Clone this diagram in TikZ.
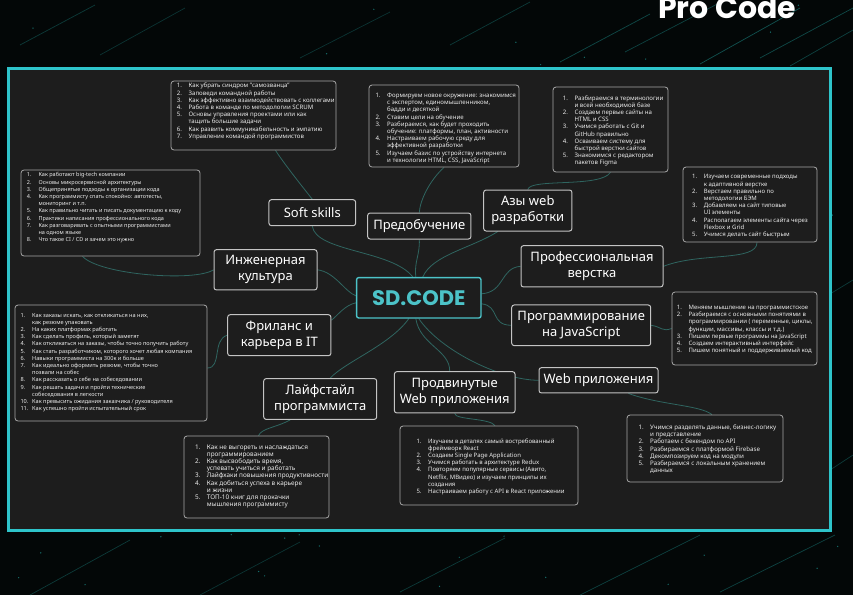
\documentclass[tikz,border=0pt]{standalone}
\usepackage{fontspec}
\setmainfont{Noto Sans}
\newfontfamily\popp{Poppins}
\usetikzlibrary{calc}
\definecolor{bg}{HTML}{030707}
\definecolor{framec}{HTML}{2EC4CA}
\definecolor{innerc}{HTML}{1D1D1D}
\definecolor{boxline}{HTML}{C4C4C4}
\definecolor{conn}{HTML}{2F6560}
\definecolor{sdteal}{HTML}{4CC3C8}
\definecolor{streak}{HTML}{1E9A96}
\pgfdeclarelayer{bgl}
\pgfsetlayers{bgl,main}
\tikzset{
 topic/.style={draw=boxline, line width=1pt, rounded corners=2.5pt, fill=innerc, text=white,
   font=\fontsize{13}{16}\selectfont\bfseries, align=center, inner sep=0pt},
 detail/.style={draw=boxline!85!black, line width=0.8pt, rounded corners=3pt, fill=innerc, inner sep=0pt},
 dtext/.style={anchor=north west, inner sep=0pt, text=white!92!black, font=\fontsize{#1}{7.2}\selectfont},
 dtext/.default=6.1,
 link/.style={draw=conn, line width=0.8pt},
}
\newcommand\dtab[1]{\begin{tabular}{@{}p{11.7pt}@{}l@{}}#1\end{tabular}}
\begin{document}
\begin{tikzpicture}[x=1pt,y=-1pt]
\useasboundingbox (0,0) rectangle (853,595);

% title
\node[font=\popp\bfseries\fontsize{30}{30}\selectfont, text=white, anchor=base west, inner sep=0pt] (title) at (658,18) {Pro Code};

% center
\node[draw=sdteal, line width=1.4pt, rounded corners=2pt, fill=innerc, minimum width=124.3pt, minimum height=40.3pt,
  text=sdteal, font=\popp\bfseries\fontsize{21}{21}\selectfont, inner sep=0pt] (sd) at (418.8,297.8) {SD.CODE};

% topics
\node[topic, minimum width=86.7pt, minimum height=26pt] (ss) at (312.3,212.7) {Soft skills};
\node[topic, minimum width=103.3pt, minimum height=26pt] (pre) at (419.3,226) {Предобучение};
\node[topic, minimum width=88.3pt, minimum height=41pt] (azy) at (527.8,210.5) {Азы web\\разработки};
\node[topic, minimum width=103pt, minimum height=40.3pt] (eng) at (265.5,269.8) {Инженерная\\культура};
\node[topic, minimum width=142pt, minimum height=41.3pt] (prof) at (592,266.3) {Профессиональная\\верстка};
\node[topic, minimum width=103.3pt, minimum height=41pt] (fr) at (279.3,335.2) {Фриланс и\\карьера в IT};
\node[topic, minimum width=139pt, minimum height=40.7pt] (js) at (581.2,325.3) {Программирование\\на JavaScript};
\node[topic, minimum width=119pt, minimum height=25.3pt] (web) at (598.5,380.3) {Web приложения};
\node[topic, minimum width=113pt, minimum height=40.8pt] (life) at (320.2,399) {Лайфстайл\\программиста};
\node[topic, minimum width=120.7pt, minimum height=41.3pt] (adv) at (454.7,392.3) {Продвинутые\\Web приложения};

% detail boxes
\node[detail, minimum width=165pt, minimum height=69pt] (A) at (253.5,115.5) {};
\node[dtext] (At) at (176.7,82.6) {\dtab{
1.&Как убрать синдром "самозванца"\\
2.&Заповеди командной работы\\
3.&Как эффективно взаимодействовать с коллегами\\
4.&Работа в команде по методологии SCRUM\\
5.&Основы управления проектами или как\\
&тащить большие задачи\\
6.&Как развить коммуникабельность и эмпатию\\
7.&Управление командой программистов\\}};

\node[detail, minimum width=150pt, minimum height=82pt] (B) at (444,126) {};
\node[dtext] (Bt) at (375.3,92.2) {\dtab{
1.&Формируем новое окружение: знакомимся\\
&с экспертом, единомышленником,\\
&бадди и десяткой\\
2.&Ставим цели на обучение\\
3.&Разбираемся, как будет проходить\\
&обучение: платформы, план, активности\\
4.&Настраиваем рабочую среду для\\
&эффективной разработки\\
5.&Изучаем базис по устройству интернета\\
&и технологии HTML, CSS, JavaScript\\}};

\node[detail, minimum width=115pt, minimum height=85pt] (C) at (610.5,129.5) {};
\node[dtext] (Ct) at (562.7,94.9) {\dtab{
1.&Разбираемся в терминологии\\
&и всей необходимой базе\\
2.&Создаем первые сайты на\\
&HTML и CSS\\
3.&Учимся работать с Git и\\
&GitHub правильно\\
4.&Осваиваем систему для\\
&быстрой верстки сайтов\\
5.&Знакомимся с редактором\\
&пакетов Figma\\}};

\node[detail, minimum width=179pt, minimum height=86pt] (D) at (110.5,213) {};
\node[dtext=5.5] (Dt) at (26.7,171.6) {\dtab{
1.&Как работают big-tech компании\\
2.&Основы микросервисной архитектуры\\
3.&Общепринятые подходы к организации кода\\
4.&Как программисту спать спокойно: автотесты,\\
&мониторинг и т.п.\\
5.&Как правильно читать и писать документацию к коду\\
6.&Практики написания профессионального кода\\
7.&Как разговаривать с опытными программистами\\
&на одном языке\\
8.&Что такое CI / CD и зачем это нужно\\}};

\node[detail, minimum width=134pt, minimum height=75pt] (E) at (750,204.5) {};
\node[dtext=6.0] (Et) at (692,173.6) {\dtab{
1.&Изучаем современные подходы\\
&к адаптивной верстке\\
2.&Верстаем правильно по\\
&методологии БЭМ\\
3.&Добавляем на сайт типовые\\
&UI элементы\\
4.&Располагаем элементы сайта через\\
&Flexbox и Grid\\
5.&Учимся делать сайт быстрым\\}};

\node[detail, minimum width=145pt, minimum height=73pt] (F) at (744.5,328.5) {};
\node[dtext=6.0] (Ft) at (676.7,304.2) {\dtab{
1.&Меняем мышление на программистское\\
2.&Разбираемся с основными понятиями в\\
&программировании ( переменные, циклы,\\
&функции, массивы, классы и т.д.)\\
3.&Пишем первые программы на JavaScript\\
4.&Создаем интерактивный интерфейс\\
5.&Пишем понятный и поддерживаемый код\\}};

\node[detail, minimum width=192pt, minimum height=116pt] (G) at (111,363) {};
\node[dtext=5.6] (Gt) at (20.3,311.9) {\dtab{
1.&Как заказы искать, как откликаться на них,\\
&как резюме упаковать\\
2.&На каких платформах работать\\
3.&Как сделать профиль, который заметят\\
4.&Как откликаться на заказы, чтобы точно получить работу\\
5.&Как стать разработчиком, которого хочет любая компания\\
6.&Навыки программиста на 300к и больше\\
7.&Как идеально оформить резюме, чтобы точно\\
&позвали на собес\\
8.&Как рассказать о себе на собеседовании\\
9.&Как решать задачи и пройти технические\\
&собеседования в легкости\\
10.&Как превысить ожидания заказчика / руководителя\\
11.&Как успешно пройти испытательный срок\\}};

\node[detail, minimum width=145pt, minimum height=82pt] (H) at (256.5,477) {};
\node[dtext=6.4] (Ht) at (195,443.9) {\dtab{
1.&Как не выгореть и наслаждаться\\
&программированием\\
2.&Как высвободить время,\\
&успевать учиться и работать\\
3.&Лайфхаки повышения продуктивности\\
4.&Как добиться успеха в карьере\\
&и жизни\\
5.&ТОП-10 книг для прокачки\\
&мышления программисту\\}};

\node[detail, minimum width=178pt, minimum height=79pt] (I) at (489,465.5) {};
\node[dtext=6.0] (It) at (416.3,437.9) {\dtab{
1.&Изучаем в деталях самый востребованный\\
&фреймворк React\\
2.&Создаем Single Page Application\\
3.&Учимся работать в архитектуре Redux\\
4.&Повторяем популярные сервисы (Авито,\\
&Netflix, МВидео) и изучаем принципы их\\
&создания\\
5.&Настраиваем работу с API в React приложении\\}};

\node[detail, minimum width=156pt, minimum height=67pt] (J) at (705,448.5) {};
\node[dtext=6.2] (Jt) at (638.3,424.2) {\dtab{
1.&Учимся разделять данные, бизнес-логику\\
&и представление\\
2.&Работаем с бекендом по API\\
3.&Разбираемся с платформой Firebase\\
4.&Декомпозируем код на модули\\
5.&Разбираемся с локальным хранением\\
&данных\\}};

\begin{pgfonlayer}{bgl}
\fill[bg] (0,0) rectangle (853,595);
\foreach \a/\b/\c/\d/\o in {
  20/45/95/5/0.35, 100/55/185/8/0.3, 300/58/390/12/0.3, 450/45/530/2/0.35,
  560/62/650/14/0.45, 625/52/725/0/0.4, 700/64/800/8/0.5, 760/58/853/8/0.45,
  790/66/853/30/0.4, 30/595/130/540/0.35, 200/595/300/542/0.3, 400/592/505/538/0.35,
  580/595/700/535/0.4, 720/592/835/535/0.4, 820/300/853/280/0.35, 830/470/853/455/0.35}
  {\draw[streak, opacity=\o, line width=0.7pt] (\a,\b) -- (\c,\d);}
\pgfmathsetseed{12}
\foreach \i in {1,...,110}{
  \pgfmathsetmacro\px{rnd*853}\pgfmathsetmacro\py{rnd*595}
  \fill[streak, opacity=0.7] (\px,\py) circle (0.7pt);}
\draw[draw=framec, line width=3pt, fill=innerc] (8,68) rectangle (830,530);

% center links
\draw[link] (ss.south) .. controls (316,252) and (392,250) .. ([xshift=-6pt]sd.north);
\draw[link] (pre.south) .. controls (420,255) and (414,262) .. ([xshift=-3pt]sd.north);
\draw[link] ([xshift=4pt]sd.north) .. controls (432,255) and (472,248) .. ([xshift=-30pt]azy.south);
\draw[link] ([yshift=4pt]sd.east) .. controls (505,292) and (500,268) .. (prof.west);
\draw[link] ([yshift=-6pt]sd.east) .. controls (500,306) and (490,325) .. (js.west);
\draw[link] (sd.south) .. controls (440,350) and (500,380) .. (web.west);
\draw[link] ([xshift=-3pt]sd.south) .. controls (420,345) and (450,350) .. ([xshift=-5pt]adv.north);
\draw[link] ([xshift=-10pt]sd.south) .. controls (390,345) and (345,362) .. ([xshift=10pt]life.north);
\draw[link] ([yshift=-5pt]sd.west) .. controls (345,305) and (338,315) .. ([yshift=-6pt]fr.north east);
\draw[link] (eng.east) .. controls (335,272) and (345,292) .. ([yshift=2pt]sd.west);
% detail links
\draw[link] (ss.north) .. controls (305,190) and (285,165) .. ([xshift=22pt]A.south);
\draw[link] (pre.north) .. controls (420,200) and (430,180) .. (B.south);
\draw[link] (azy.north) .. controls (530,178) and (600,188) .. (C.south);
\draw[link] (prof.east) .. controls (700,252) and (757,262) .. ([xshift=7pt]E.south);
\draw[link] (js.east) .. controls (662,327) and (662,332) .. (F.west);
\draw[link] (eng.west) .. controls (195,282) and (100,275) .. ([xshift=-28pt]D.south);
\draw[link] (fr.west) .. controls (212,340) and (222,368) .. ([yshift=-5pt]G.east);
\draw[link] ([xshift=-30pt]life.south) .. controls (275,428) and (262,428) .. ([xshift=2pt]H.north);
\draw[link] (adv.south) .. controls (455,420) and (490,418) .. ([xshift=6pt]I.north);
\draw[link] ([xshift=30pt]web.south) .. controls (660,405) and (700,405) .. ([xshift=7pt]J.north);
\end{pgfonlayer}
\end{tikzpicture}
\end{document}
